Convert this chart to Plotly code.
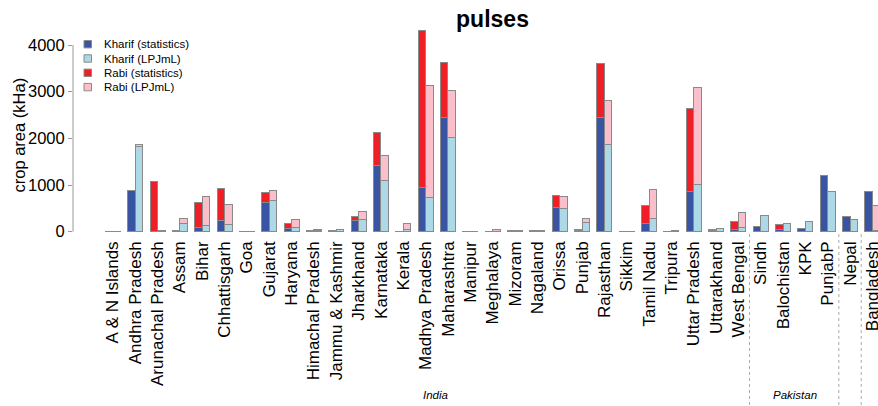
import plotly.graph_objects as go

regions = ["A & N Islands", "Andhra Pradesh", "Arunachal Pradesh", "Assam", "Bihar",
           "Chhattisgarh", "Goa", "Gujarat", "Haryana", "Himachal Pradesh",
           "Jammu & Kashmir", "Jharkhand", "Karnataka", "Kerala", "Madhya Pradesh",
           "Maharashtra", "Manipur", "Meghalaya", "Mizoram", "Nagaland", "Orissa",
           "Punjab", "Rajasthan", "Sikkim", "Tamil Nadu", "Tripura", "Uttar Pradesh",
           "Uttarakhand", "West Bengal", "Sindh", "Balochistan", "KPK", "PunjabP",
           "Nepal", "Bangladesh"]

kharif_stat = [2, 890, 5, 12, 85, 230, 5, 630, 60, 25, 30, 230, 1415, 3, 940,
               2445, 8, 5, 10, 15, 520, 30, 2450, 6, 180, 5, 865, 30, 50,
               122, 51, 64, 1205, 318, 857]
rabi_stat = [0, 0, 1080, 8, 550, 700, 8, 215, 120, 10, 5, 90, 720, 2, 3365,
             1185, 4, 2, 5, 12, 250, 12, 1150, 4, 380, 2, 1765, 20, 170,
             0, 105, 0, 0, 0, 0]
kharif_lpj = [3, 1820, 15, 180, 130, 150, 5, 665, 90, 30, 50, 270, 1095, 45, 735,
              2020, 8, 12, 12, 12, 495, 200, 1870, 6, 280, 12, 1015, 60, 95,
              348, 180, 222, 868, 257, 20]
rabi_lpj = [1, 50, 20, 105, 615, 435, 5, 215, 165, 15, 7, 160, 540, 125, 2400,
            1000, 5, 35, 8, 8, 260, 85, 950, 4, 615, 8, 2080, 12, 315,
            0, 0, 0, 0, 0, 537]

country_labels = ["India", "Pakistan"]
country_centers = [45.3, 93.6]
separators = [87.5, 99.5, 102.5]
yticks = [0, 1000, 2000, 3000, 4000]

C_KS = "#3a54a4"
C_KL = "#add8e6"
C_RS = "#ee1f26"
C_RL = "#f9c0cb"
EDGE = "#8a8a8a"

n = len(regions)
x_stat = [3 * i + 1.5 for i in range(n)]
x_lpj = [3 * i + 2.5 for i in range(n)]
x_lab = [3 * i + 2 for i in range(n)]

fig = go.Figure()
for xs, ys, col, name in [(x_stat, kharif_stat, C_KS, "Kharif (statistics)"),
                          (x_lpj, kharif_lpj, C_KL, "Kharif (LPJmL)"),
                          (x_stat, rabi_stat, C_RS, "Rabi (statistics)"),
                          (x_lpj, rabi_lpj, C_RL, "Rabi (LPJmL)")]:
    fig.add_trace(go.Bar(x=xs, y=ys, width=1, name=name, showlegend=False,
                         marker=dict(color=col, line=dict(color=EDGE, width=1))))

W, H = 878, 406
ML, MR, MT, MB = 73, 0, 26, 173
PW, PH = W - ML - MR, H - MT - MB
scale = 7.445
u_left = 5 - (135.3 - ML) / scale
u_right = u_left + PW / scale

def px_x(p):
    return (p - ML) / PW

def px_y(p):
    return (H - MB - p) / PH

font = "Liberation Sans, Arial, Helvetica, sans-serif"

fig.update_layout(
    width=W, height=H,
    margin=dict(l=ML, r=MR, t=MT, b=MB, pad=0),
    plot_bgcolor="white", paper_bgcolor="white",
    barmode="stack",
    font=dict(family=font, color="black"),
    xaxis=dict(range=[u_left, u_right], tickvals=x_lab, ticktext=regions,
               tickangle=-90, tickfont=dict(size=17, color="black"),
               showgrid=False, zeroline=False, showline=False, ticks="",
               automargin=False, ticklabeloverflow="allow", ticklabelstandoff=4),
    yaxis=dict(range=[-28, 4407], tickvals=yticks, ticktext=[str(v) for v in yticks],
               tickfont=dict(size=16.5, color="black"), ticks="outside", ticklen=4,
               tickcolor="#999999", showgrid=False, zeroline=False, showline=False,
               automargin=False),
    title=dict(text="<b>pulses</b>", x=492.5 / W, xanchor="center", xref="container",
               y=1 - 19 / H, yanchor="middle", yref="container",
               font=dict(size=23, color="black", family=font)),
)

# y axis line from 0 to 4000
fig.add_shape(type="line", xref="paper", yref="y", x0=0, x1=0, y0=0, y1=4000,
              line=dict(color="#999999", width=1))

# separators
for s in separators:
    fig.add_shape(type="line", xref="x", yref="paper", x0=s, x1=s,
                  y0=px_y(234), y1=px_y(406), line=dict(color="#aaaaaa", width=1, dash="dot"))

# country labels
for lab, c in zip(country_labels, country_centers):
    fig.add_annotation(text="<i>%s</i>" % lab, x=c, xref="x", y=px_y(395), yref="paper",
                       showarrow=False, xanchor="center", yanchor="middle",
                       font=dict(size=11.5, color="black"))

# y title
fig.add_annotation(text="crop area (kHa)", textangle=-90, x=px_x(18), xref="paper",
                   y=px_y(135.5), yref="paper", showarrow=False,
                   xanchor="center", yanchor="middle", font=dict(size=16.5, color="black"))

# legend
leg = [("Kharif (statistics)", C_KS), ("Kharif (LPJmL)", C_KL),
       ("Rabi (statistics)", C_RS), ("Rabi (LPJmL)", C_RL)]
for k, (name, col) in enumerate(leg):
    cy = 44.2 + k * 14.3
    fig.add_shape(type="rect", xref="paper", yref="paper",
                  x0=px_x(84), x1=px_x(91.5), y0=px_y(cy + 3.7), y1=px_y(cy - 3.7),
                  fillcolor=col, line=dict(color=EDGE, width=1))
    fig.add_annotation(text=name, x=px_x(102), xref="paper", y=px_y(cy), yref="paper",
                       showarrow=False, xanchor="left", yanchor="middle",
                       font=dict(size=11.5, color="black"))

fig.write_html("out.html", config={"displayModeBar": False},
               post_script="document.body.style.margin='0';document.body.style.overflow='hidden';")
